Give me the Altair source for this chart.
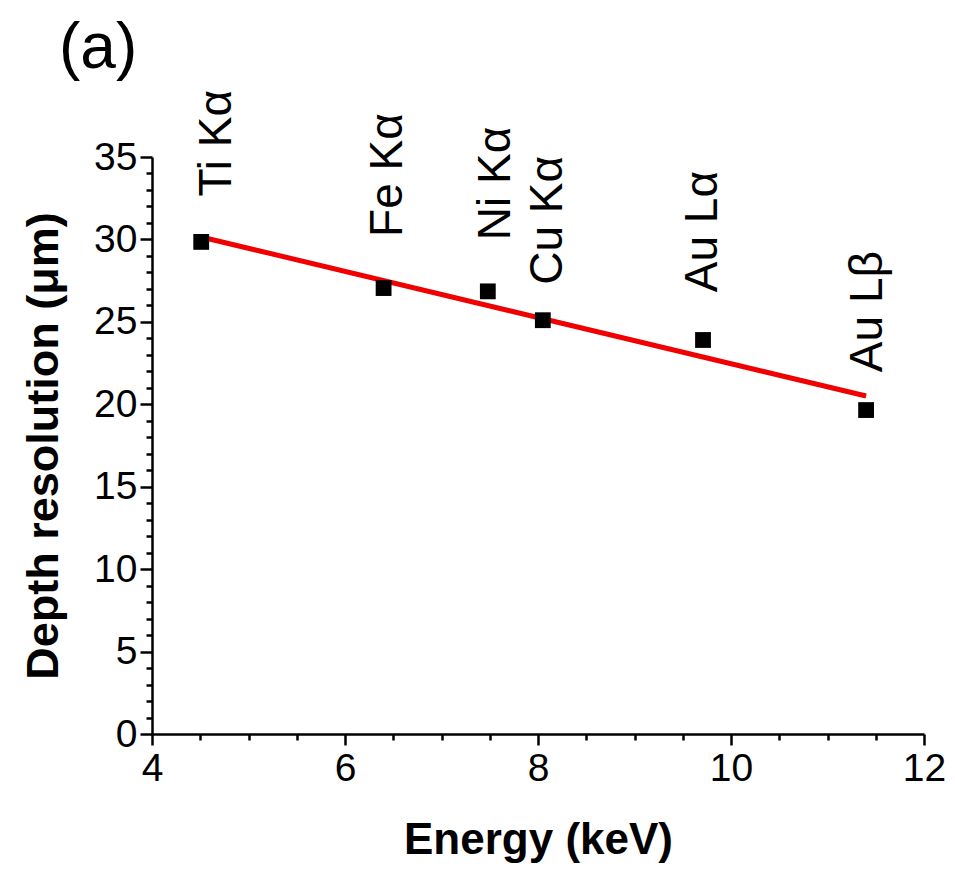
import altair as alt
import pandas as pd

# ---- data ----
lines = ["Ti Kα", "Fe Kα", "Ni Kα", "Cu Kα", "Au Lα", "Au Lβ"]
energy = [4.51, 6.40, 7.48, 8.05, 9.71, 11.40]
depth = [29.85, 27.05, 26.85, 25.10, 23.90, 19.65]
# label anchors (data units)
label_x = [4.67, 6.45, 7.56, 8.10, 9.71, 11.42]
label_y = [32.6, 30.15, 29.95, 27.25, 26.8, 21.95]
# linear fit endpoints
fit_x = [4.51, 11.40]
fit_y = [30.15, 20.50]

x_major = [4, 6, 8, 10, 12]
x_minor = [4.5, 5, 5.5, 6.5, 7, 7.5, 8.5, 9, 9.5, 10.5, 11, 11.5]
y_major = [0, 5, 10, 15, 20, 25, 30, 35]
y_minor = [v for v in range(0, 36) if v % 5 != 0]

FONT = "Liberation Sans"

df = pd.DataFrame({"line": lines, "energy": energy, "depth": depth,
                   "lx": label_x, "ly": label_y})
fit = pd.DataFrame({"energy": fit_x, "depth": fit_y})
minor_x = pd.DataFrame({"energy": x_minor})
minor_y = pd.DataFrame({"depth": y_minor})

xs = alt.Scale(domain=[4, 12], nice=False, zero=False)
ys = alt.Scale(domain=[0, 35], nice=False, zero=False)

common_axis = dict(grid=False, domainColor="black", domainWidth=2.5,
                   tickColor="black", tickWidth=2.5, labelFlush=False,
                   labelFont=FONT, labelColor="black", titleFont=FONT,
                   titleColor="black", titleFontWeight="bold")

x_axis = alt.Axis(values=x_major, tickSize=11, labelFontSize=39, labelPadding=4,
                  title="Energy (keV)", titleFontSize=44, titleBaseline="alphabetic",
                  titleY=119, format="d", orient="bottom", **common_axis)
y_axis = alt.Axis(values=y_major, tickSize=12, labelFontSize=39, labelPadding=3,
                  title="Depth resolution (μm)", titleFontSize=45,
                  titleBaseline="alphabetic", titleX=-95, titleAngle=270,
                  format="d", orient="left", **common_axis)

points = alt.Chart(df).mark_square(size=250, color="black", opacity=1).encode(
    x=alt.X("energy:Q", scale=xs, axis=x_axis),
    y=alt.Y("depth:Q", scale=ys, axis=y_axis),
)

line = alt.Chart(fit).mark_line(color="#f00000", strokeWidth=5).encode(
    x=alt.X("energy:Q", scale=xs, axis=None),
    y=alt.Y("depth:Q", scale=ys, axis=None),
)

labels = alt.Chart(df).mark_text(angle=270, align="left", baseline="middle",
                                 font=FONT, fontSize=46, color="black").encode(
    x=alt.X("lx:Q", scale=xs, axis=None),
    y=alt.Y("ly:Q", scale=ys, axis=None),
    text="line:N",
)

panel = alt.Chart(pd.DataFrame({"t": ["(a)"]})).mark_text(
    align="left", baseline="alphabetic", font=FONT, fontSize=64, color="black"
).encode(x=alt.value(-93), y=alt.value(-89), text="t:N")

minor_xl = alt.Chart(minor_x).mark_point(opacity=0).encode(
    x=alt.X("energy:Q", scale=xs,
            axis=alt.Axis(values=x_minor, labels=False, title=None, domain=False,
                          grid=False, tickSize=6, tickWidth=2.5, tickColor="black",
                          orient="bottom")),
)
minor_yl = alt.Chart(minor_y).mark_point(opacity=0).encode(
    y=alt.Y("depth:Q", scale=ys,
            axis=alt.Axis(values=y_minor, labels=False, title=None, domain=False,
                          grid=False, tickSize=6, tickWidth=2.5, tickColor="black",
                          orient="left")),
)

chart = alt.layer(line, points, labels, panel, minor_xl, minor_yl).resolve_axis(
    x="independent", y="independent"
).properties(
    width=772, height=577,
    autosize=alt.AutoSizeParams(type="none"),
    padding={"left": 144, "top": 149, "right": 23, "bottom": 130},
    background="white",
).configure_view(stroke=None)

chart.save("out.html", embed_options={"renderer": "svg", "actions": False})
